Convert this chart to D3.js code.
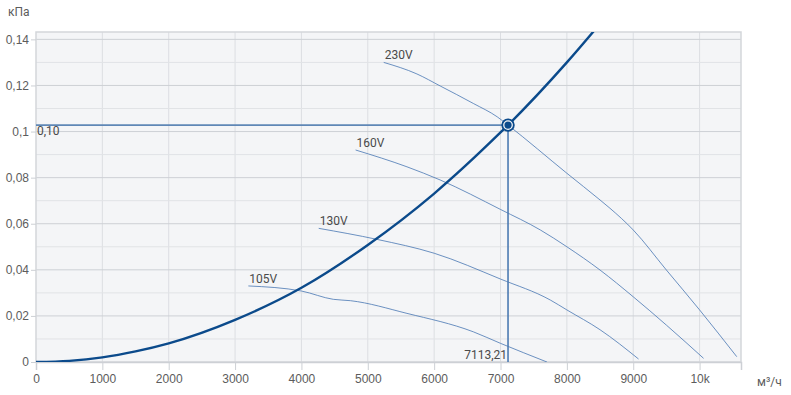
<!DOCTYPE html>
<html>
<head>
<meta charset="utf-8">
<script src="https://cdn.jsdelivr.net/npm/d3@7"></script>
<style>
  html, body { margin: 0; padding: 0; background: #fff; }
  svg { display: block; font-family: Roboto, "Liberation Sans", sans-serif; }
</style>
</head>
<body>
<div id="chart"></div>
<script>
// system curve (кПа vs м³/ч)
const sysQ = [0, 500, 1000, 1500, 2000, 3000, 4000, 5000, 6000, 7000, 7113.21, 8000, 8500];
const sysP = [0, 0.0005, 0.0020, 0.0046, 0.0081, 0.0183, 0.0322, 0.0508, 0.0731, 0.0996, 0.1028, 0.1300, 0.1468];

// fan curves per voltage
const v230Q = [5240, 5740, 6090, 6590, 6950, 7113.21, 8000, 8500, 8650, 9000, 9500, 10000, 10560];
const v230P = [0.1300, 0.1250, 0.1198, 0.1122, 0.1064, 0.1028, 0.0819, 0.0703, 0.0667, 0.0573, 0.0399, 0.0226, 0.0023];
const v160Q = [4816, 5590, 6090, 7000, 7600, 8000, 8500, 9000, 9500, 10060];
const v160P = [0.0920, 0.0847, 0.0790, 0.0662, 0.0573, 0.0500, 0.0399, 0.0283, 0.0160, 0.0016];
const v130Q = [4260, 5140, 6000, 7000, 7750, 8000, 8500, 9080];
const v130P = [0.0580, 0.0532, 0.0472, 0.0360, 0.0269, 0.0226, 0.0140, 0.0013];
const v105Q = [3200, 4000, 4480, 4740, 5590, 6590, 7000, 7700];
const v105P = [0.0330, 0.0308, 0.0272, 0.0266, 0.0211, 0.0131, 0.0081, 0];

const fanNames = ['230V', '160V', '130V', '105V'];

// operating point
const opQ = 7113.21;
const opP = 0.1028;
const opLabelQ = '7113,21';
const opLabelP = '0,10';

const xTicks = [0, 1000, 2000, 3000, 4000, 5000, 6000, 7000, 8000, 9000, 10000];
const xTickLabels = ['0', '1000', '2000', '3000', '4000', '5000', '6000', '7000', '8000', '9000', '10k'];
const yMajor = [0, 0.02, 0.04, 0.06, 0.08, 0.1, 0.12, 0.14];
const yMajorLabels = ['0', '0,02', '0,04', '0,06', '0,08', '0,1', '0,12', '0,14'];
const yMinor = [0.01, 0.03, 0.05, 0.07, 0.09, 0.11, 0.13];

const W = 791, H = 395;
const pl = 36, pr = 741, pt = 32, pb = 362;

const svg = d3.select('#chart').append('svg')
  .attr('width', W).attr('height', H);

const x = d3.scaleLinear().domain([0, 10624]).range([pl, pr]);
const y = d3.scaleLinear().domain([0, 0.1432]).range([pb, pt]);

svg.append('defs').append('clipPath').attr('id', 'plot')
  .append('rect')
  .attr('x', pl).attr('y', pt)
  .attr('width', pr - pl).attr('height', pb - pt);

// background
svg.append('rect')
  .attr('x', pl).attr('y', pt)
  .attr('width', pr - pl).attr('height', pb - pt)
  .attr('fill', '#f4f5f7');

// grid
svg.append('g').selectAll('line').data(xTicks.slice(1)).join('line')
  .attr('x1', d => x(d)).attr('x2', d => x(d))
  .attr('y1', pt).attr('y2', pb)
  .attr('stroke', '#dcdee2').attr('stroke-width', 1);

svg.append('g').selectAll('line').data(yMinor).join('line')
  .attr('x1', pl).attr('x2', pr)
  .attr('y1', d => y(d)).attr('y2', d => y(d))
  .attr('stroke', '#e1e3e6').attr('stroke-width', 1);

svg.append('g').selectAll('line').data(yMajor.slice(1)).join('line')
  .attr('x1', pl).attr('x2', pr)
  .attr('y1', d => y(d)).attr('y2', d => y(d))
  .attr('stroke', '#cdd0d5').attr('stroke-width', 1);

// frame
svg.append('rect')
  .attr('x', pl).attr('y', pt)
  .attr('width', pr - pl).attr('height', pb - pt)
  .attr('fill', 'none').attr('stroke', '#d3d6da').attr('stroke-width', 1.5);

// axes
const xAxis = svg.append('g')
  .attr('transform', 'translate(0,' + pb + ')')
  .call(d3.axisBottom(x).tickValues(xTicks)
    .tickFormat((d, i) => xTickLabels[i]).tickSize(8).tickPadding(4));
xAxis.select('.domain').attr('stroke', '#cdd0d5').attr('stroke-width', 1.5);
xAxis.selectAll('.tick line').attr('stroke', '#cdd0d5');
xAxis.selectAll('text').attr('fill', '#5c5c5c').style('font-size', '12px');

const yAxis = svg.append('g')
  .attr('transform', 'translate(' + pl + ',0)')
  .call(d3.axisLeft(y).tickValues(yMajor)
    .tickFormat((d, i) => yMajorLabels[i]).tickSize(5).tickPadding(2));
yAxis.select('.domain').remove();
yAxis.selectAll('.tick line').attr('stroke', '#cdd0d5');
yAxis.selectAll('text').attr('fill', '#5c5c5c').style('font-size', '12px');

svg.append('text').attr('x', 8).attr('y', 16)
  .attr('fill', '#5c5c5c').style('font-size', '12px').text('кПа');
svg.append('text').attr('x', 757).attr('y', 386)
  .attr('fill', '#5c5c5c').style('font-size', '12px').text('м³/ч');

const plot = svg.append('g').attr('clip-path', 'url(#plot)');

const line = d3.line()
  .x(d => x(d[0])).y(d => y(d[1]))
  .curve(d3.curveMonotoneX);

const fans = [
  [v230Q, v230P], [v160Q, v160P], [v130Q, v130P], [v105Q, v105P]
];

fans.forEach(([qs, ps], i) => {
  const pts = qs.map((q, j) => [q, ps[j]]);
  plot.append('path')
    .attr('d', line(pts))
    .attr('fill', 'none')
    .attr('stroke', '#4776b2')
    .attr('stroke-width', 0.8);
  svg.append('text')
    .attr('x', x(qs[0]) + 1).attr('y', y(ps[0]) - 3)
    .attr('fill', '#4a4a4a').style('font-size', '12px')
    .text(fanNames[i]);
});

// operating point guide lines
plot.append('line')
  .attr('x1', pl).attr('x2', x(opQ))
  .attr('y1', y(opP)).attr('y2', y(opP))
  .attr('stroke', '#5f87b6').attr('stroke-width', 1.8);
plot.append('line')
  .attr('x1', x(opQ)).attr('x2', x(opQ))
  .attr('y1', y(opP)).attr('y2', pb)
  .attr('stroke', '#4c7ab2').attr('stroke-width', 1.6);

svg.append('text')
  .attr('x', pl + 1).attr('y', y(opP) + 10)
  .attr('fill', '#4a4a4a').style('font-size', '12px').text(opLabelP);
svg.append('text')
  .attr('x', x(opQ) - 1).attr('y', pb - 3)
  .attr('text-anchor', 'end')
  .attr('fill', '#4a4a4a').style('font-size', '12px').text(opLabelQ);

// system curve
plot.append('path')
  .attr('d', line(sysQ.map((q, j) => [q, sysP[j]])))
  .attr('fill', 'none')
  .attr('stroke', '#0b4a8b')
  .attr('stroke-width', 2.4);

// operating point marker
svg.append('circle')
  .attr('cx', x(opQ)).attr('cy', y(opP)).attr('r', 5.8)
  .attr('fill', '#f4f5f7').attr('stroke', '#0b4a8b').attr('stroke-width', 1.8);
svg.append('circle')
  .attr('cx', x(opQ)).attr('cy', y(opP)).attr('r', 3.6)
  .attr('fill', '#0b4a8b');
</script>
</body>
</html>
